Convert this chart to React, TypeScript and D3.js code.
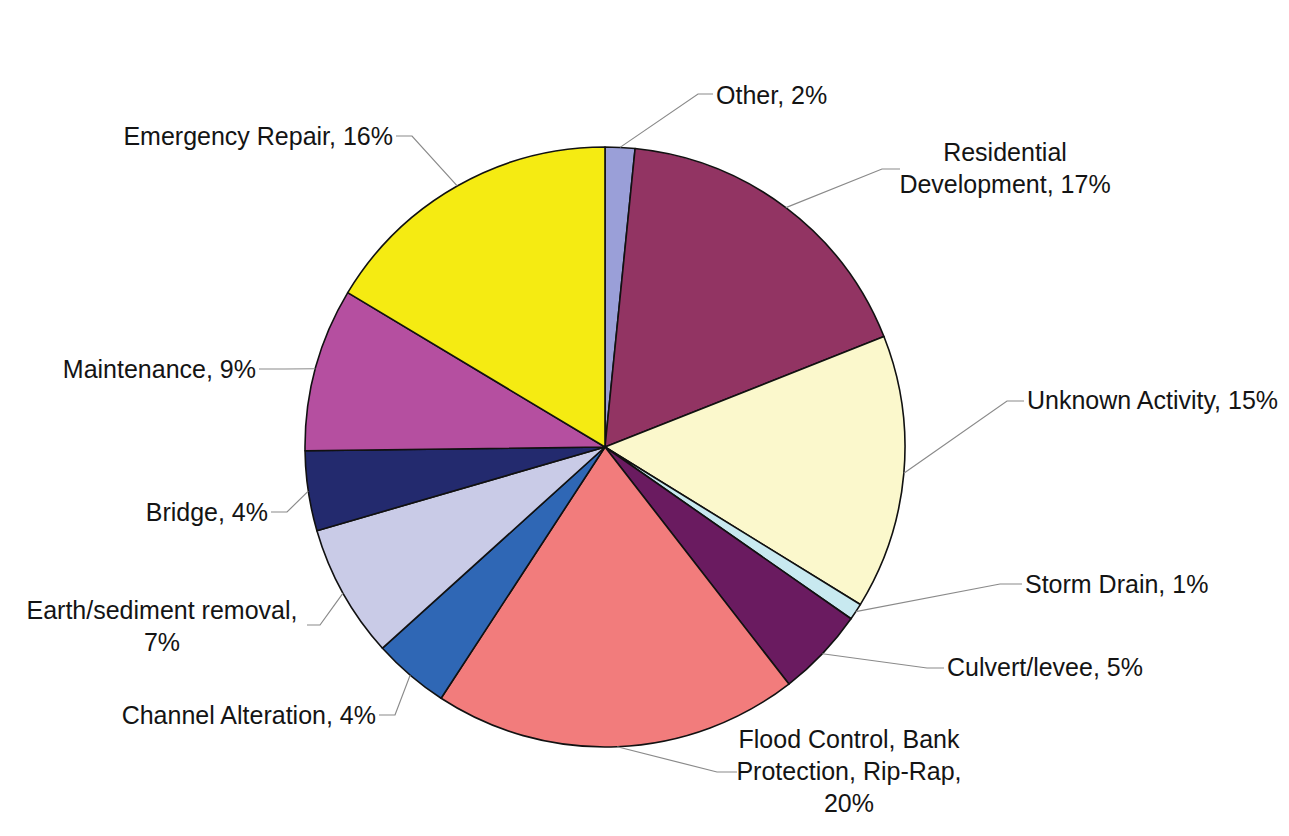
import React from "react";
import * as d3 from "d3";

const categories = [
  "Other",
  "Residential Development",
  "Unknown Activity",
  "Storm Drain",
  "Culvert/levee",
  "Flood Control, Bank Protection, Rip-Rap",
  "Channel Alteration",
  "Earth/sediment removal",
  "Bridge",
  "Maintenance",
  "Emergency Repair",
];
const values = [1.6, 17.4, 14.8, 0.9, 4.8, 19.7, 4.1, 7.2, 4.3, 8.8, 16.4];
const colors = [
  "#9a9fd8",
  "#923463",
  "#fbf8cc",
  "#c8e9f0",
  "#6a1b60",
  "#f27c7c",
  "#2f67b5",
  "#c9cbe7",
  "#232a6e",
  "#b54fa0",
  "#f5eb12",
];
// label text lines (percent appended from values)
const labelLines: string[][] = [
  ["Other, {p}"],
  ["Residential", "Development, {p}"],
  ["Unknown Activity, {p}"],
  ["Storm Drain, {p}"],
  ["Culvert/levee, {p}"],
  ["Flood Control, Bank", "Protection, Rip-Rap,", "{p}"],
  ["Channel Alteration, {p}"],
  ["Earth/sediment removal,", "{p}"],
  ["Bridge, {p}"],
  ["Maintenance, {p}"],
  ["Emergency Repair, {p}"],
];

// layout: text anchor point, alignment, leader elbow and end
const layout = [
  { tx: 716, ty: 95, anchor: "start", elbow: [698, 94], end: [713, 94] },
  { tx: 1005, ty: 152, anchor: "middle", elbow: [882, 169], end: [900, 169] },
  { tx: 1027, ty: 400, anchor: "start", elbow: [1007, 401], end: [1024, 401] },
  { tx: 1025, ty: 584, anchor: "start", elbow: [1000, 584], end: [1022, 584] },
  { tx: 947, ty: 667, anchor: "start", elbow: [927, 668], end: [944, 668] },
  { tx: 849, ty: 739, anchor: "middle", elbow: [717, 772], end: [737, 772] },
  { tx: 376, ty: 715, anchor: "end", elbow: [395, 715], end: [379, 715] },
  { tx: 162, ty: 610, anchor: "middle", elbow: [320, 625], end: [307, 625] },
  { tx: 268, ty: 512, anchor: "end", elbow: [287, 512], end: [271, 512] },
  { tx: 256, ty: 369, anchor: "end", elbow: [285, 369], end: [259, 369] },
  { tx: 393, ty: 136, anchor: "end", elbow: [412, 136], end: [396, 136] },
];

const CX = 605;
const CY = 447;
const R = 300;
const LINE_H = 32;

export default function App() {
  const pie = d3
    .pie<number>()
    .sort(null)
    .value((d) => d)
    .startAngle(0)
    .endAngle(2 * Math.PI);
  const arcs = pie(values);
  const arcGen = d3.arc<d3.PieArcDatum<number>>().innerRadius(0).outerRadius(R);

  return (
    <svg
      width={1289}
      height={836}
      style={{ position: "absolute", left: 0, top: 0, background: "#fff" }}
      fontFamily="'Liberation Sans', Arial, sans-serif"
    >
      <rect x={0} y={0} width={1289} height={836} fill="#fff" />
      <g transform={`translate(${CX},${CY})`}>
        {arcs.map((a, i) => (
          <path
            key={categories[i]}
            d={arcGen(a) || ""}
            fill={colors[i]}
            stroke="#111"
            strokeWidth={1.6}
            strokeLinejoin="round"
          />
        ))}
      </g>
      {arcs.map((a, i) => {
        const mid = (a.startAngle + a.endAngle) / 2;
        const sx = CX + Math.sin(mid) * R;
        const sy = CY - Math.cos(mid) * R;
        const L = layout[i];
        return (
          <polyline
            key={"l" + i}
            points={`${sx},${sy} ${L.elbow[0]},${L.elbow[1]} ${L.end[0]},${L.end[1]}`}
            fill="none"
            stroke="#8a8a8a"
            strokeWidth={1.2}
          />
        );
      })}
      {arcs.map((a, i) => {
        const L = layout[i];
        const p = Math.round(values[i]) + "%";
        return (
          <text
            key={"t" + i}
            x={L.tx}
            y={L.ty}
            textAnchor={L.anchor as any}
            fontSize={25}
            fill="#141414"
          >
            {labelLines[i].map((ln, j) => (
              <tspan key={j} x={L.tx} y={L.ty + j * LINE_H} dy="0.35em">
                {ln.replace("{p}", p)}
              </tspan>
            ))}
          </text>
        );
      })}
    </svg>
  );
}
